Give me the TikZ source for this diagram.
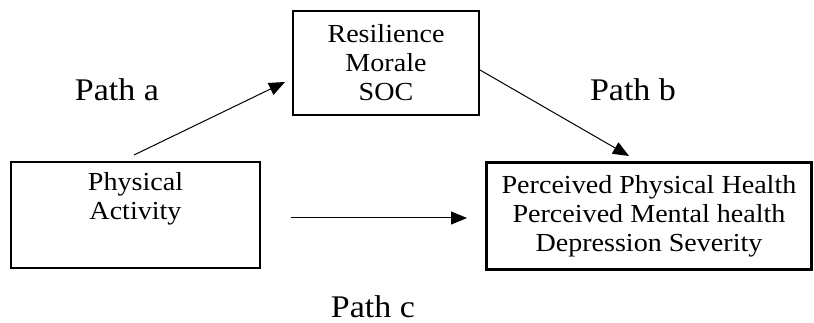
\documentclass[tikz,border=0pt]{standalone}
\usepackage{fontspec}
\setmainfont[FakeStretch=1.08]{Liberation Serif}
\usetikzlibrary{arrows.meta}
\tikzset{
  boxnode/.style={draw, line width=2.2pt, inner sep=0pt, align=center,
    font=\fontsize{26}{29}\selectfont},
  pathlabel/.style={font=\fontsize{31.5}{34}\selectfont, inner sep=0pt, anchor=base},
  conn/.style={line width=1pt, -{Triangle[length=16pt,width=13pt]}}
}
\begin{document}
\begin{tikzpicture}[x=1pt,y=-1pt]
\useasboundingbox (0,0) rectangle (814,323);
\node[boxnode, minimum width=186pt, minimum height=104pt] (med) at (386,63)
  {Resilience\\Morale\\SOC};
\node[boxnode, minimum width=249pt, minimum height=106pt] (pa) at (135.5,215)
  {Physical\\Activity\\\strut};
\node[boxnode, minimum width=325pt, minimum height=107pt] (out) at (649,216)
  {Perceived Physical Health\\Perceived Mental health\\Depression Severity};
\node[pathlabel] (la) at (117,101) {Path a};
\node[pathlabel] (lb) at (633,101) {Path b};
\node[pathlabel] (lc) at (373,317) {Path c};
\coordinate (a1) at (134,155);
\coordinate (a2) at (285,82);
\coordinate (b1) at (480,70);
\coordinate (b2) at (629,156);
\coordinate (c1) at (291,218);
\coordinate (c2) at (467,218);
\draw[conn] (a1) -- (a2);
\draw[conn] (b1) -- (b2);
\draw[conn] (c1) -- (c2);
\end{tikzpicture}
\end{document}
